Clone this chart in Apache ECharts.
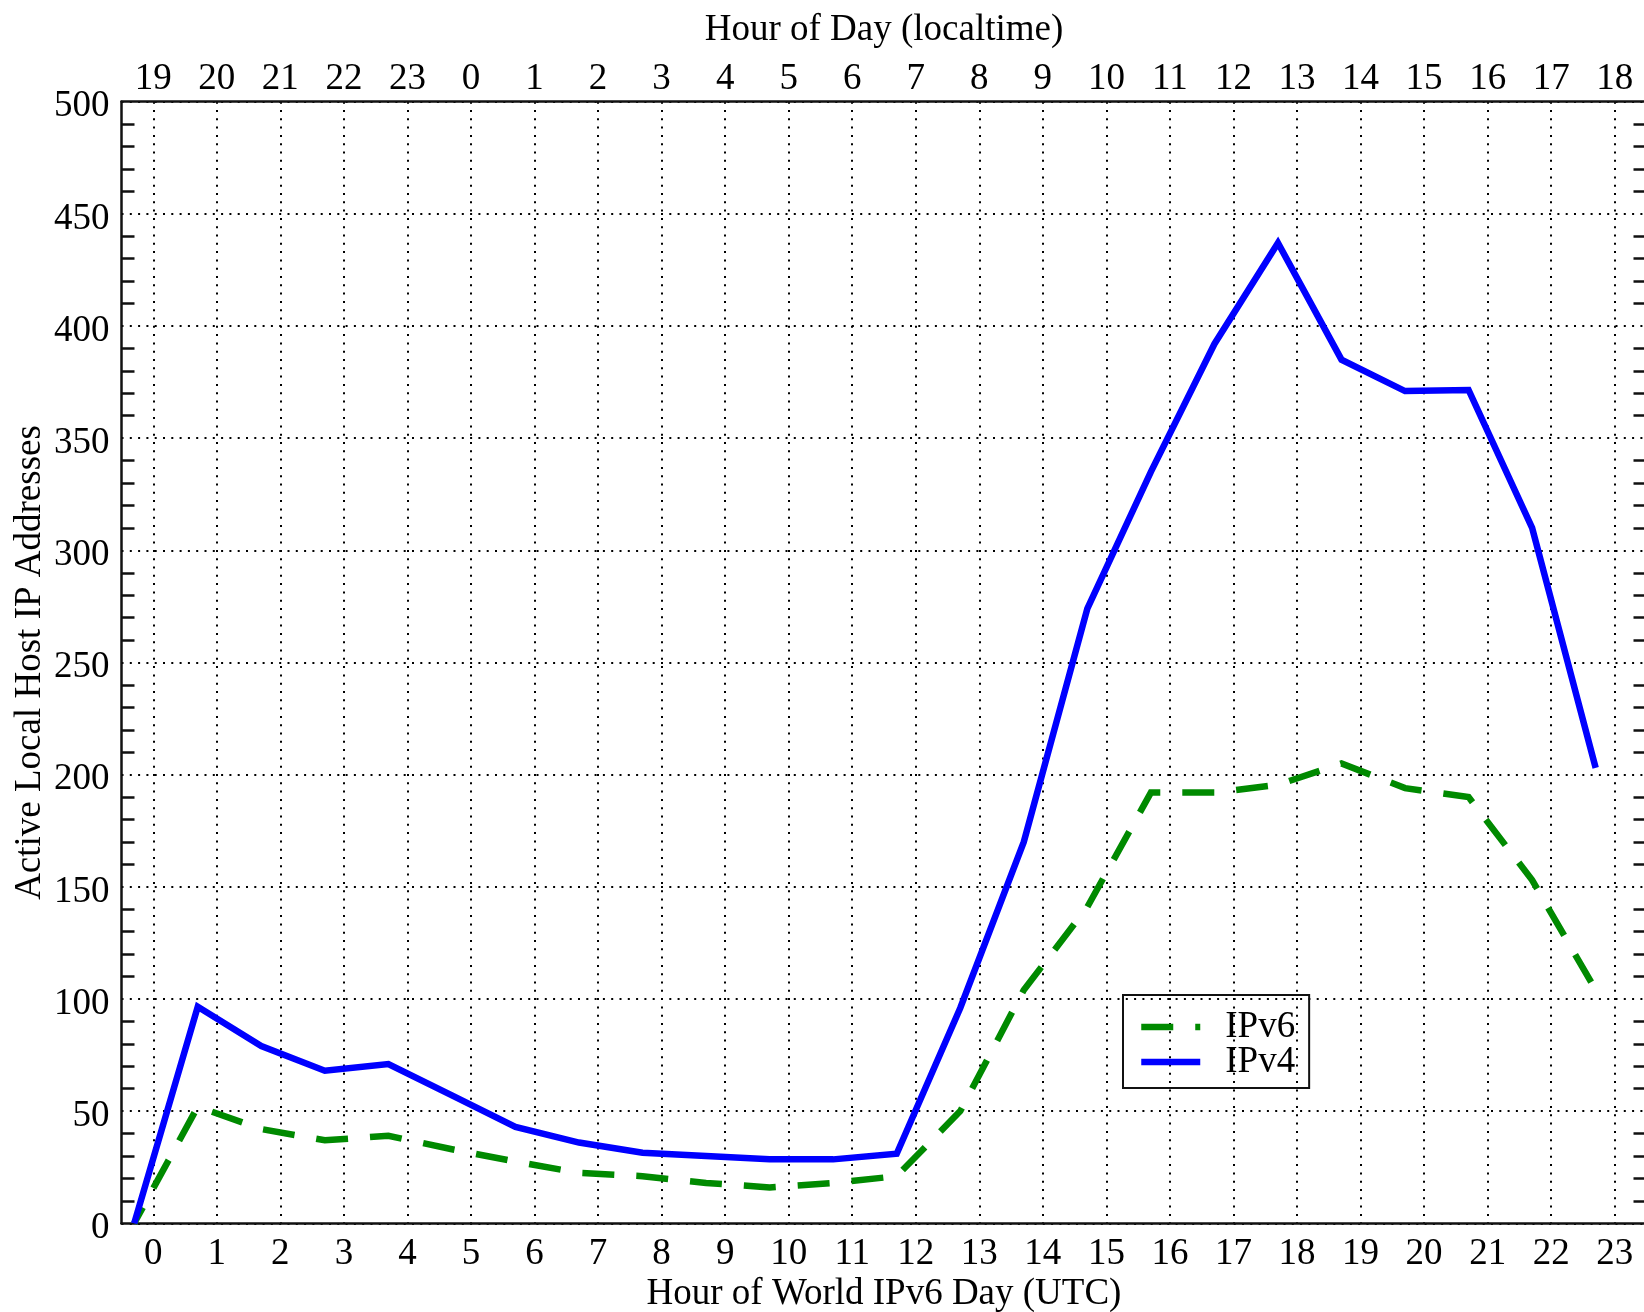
<!DOCTYPE html>
<html>
<head>
<meta charset="utf-8">
<title>World IPv6 Day – Active Local Host IP Addresses</title>
<script src="https://cdn.jsdelivr.net/npm/echarts@6/dist/echarts.min.js"></script>
<style>
  html, body { margin: 0; padding: 0; background: #fff; }
  #chart { width: 1644px; height: 1312px; }
</style>
</head>
<body>
<div id="chart"></div>
<script>
// Bottom axis: hour of World IPv6 Day in UTC
const utcHours = [0, 1, 2, 3, 4, 5, 6, 7, 8, 9, 10, 11, 12, 13, 14, 15, 16, 17, 18, 19, 20, 21, 22, 23];
// Top axis: the same ticks expressed in local time
const localHours = ['19', '20', '21', '22', '23', '0', '1', '2', '3', '4', '5', '6', '7', '8', '9', '10', '11', '12', '13', '14', '15', '16', '17', '18'];

// Time (UTC hours) of each hourly sample
const sampleTimes = [-0.3, 0.7, 1.7, 2.7, 3.7, 4.7, 5.7, 6.7, 7.7, 8.7, 9.7, 10.7, 11.7, 12.7, 13.7, 14.7, 15.7, 16.7, 17.7, 18.7, 19.7, 20.7, 21.7, 22.7];

// Active local host addresses seen per hour
const ipv6Hosts = [0, 52, 42, 37, 39, 33, 27.5, 22.5, 21, 18, 16, 18, 21, 50, 104, 141, 192, 192, 195.5, 205, 194, 190, 153, 104];
const ipv4Hosts = [0, 96.5, 79, 68, 71, 57, 43, 36, 31.5, 30, 28.5, 28.5, 31, 96, 170, 274, 335, 392, 437, 385, 371, 371.5, 310, 203];

const FONT = '"Liberation Serif", "Times New Roman", Times, serif';
const txt = { fontFamily: FONT, fontSize: 37, color: '#000' };
const gridDots = { color: '#000', width: 2, type: [2, 6.3] };
const spine = { color: '#111', width: 2.5 };
const minorTicks = { show: true, splitNumber: 5, length: 13, lineStyle: { color: '#111', width: 2.5 } };

const V6_COLOR = '#008a00';
const V4_COLOR = '#0000ff';
const LINE_W = 6.5;
const v6Line = { color: V6_COLOR, width: LINE_W, type: [32, 22], dashOffset: 14, cap: 'butt', join: 'miter' };
const v6Key = { color: V6_COLOR, width: LINE_W, type: [32, 22], dashOffset: 0, cap: 'butt' };
const v4Line = { color: V4_COLOR, width: LINE_W, type: 'solid', join: 'miter' };

const pairs = vals => sampleTimes.map((t, i) => [t, vals[i]]);

const chart = echarts.init(document.getElementById('chart'), null, { renderer: 'canvas' });

chart.setOption({
  animation: false,
  backgroundColor: '#fff',
  textStyle: { fontFamily: FONT },
  grid: {
    left: 121.5, top: 101.7, width: 1525, height: 1121.6,
    containLabel: false, outerBoundsMode: 'none'
  },
  xAxis: [
    {
      type: 'value', position: 'bottom', min: -0.5, max: 23.5,
      name: 'Hour of World IPv6 Day (UTC)', nameLocation: 'middle', nameGap: 52,
      nameTextStyle: txt, nameMoveOverlap: false,
      axisLine: { show: true, onZero: false, lineStyle: spine },
      axisTick: { show: false, customValues: utcHours },
      axisLabel: Object.assign({ customValues: utcHours, margin: 12, formatter: v => String(v) }, txt),
      splitLine: { show: true, lineStyle: gridDots }
    },
    {
      type: 'value', position: 'top', min: -0.5, max: 23.5,
      name: 'Hour of Day (localtime)', nameLocation: 'middle', nameGap: 53,
      nameTextStyle: txt, nameMoveOverlap: false,
      axisLine: { show: true, onZero: false, lineStyle: spine },
      axisTick: { show: false, customValues: utcHours },
      axisLabel: Object.assign({
        customValues: utcHours, margin: 4,
        formatter: v => localHours[utcHours.indexOf(Math.round(v))]
      }, txt),
      splitLine: { show: false }
    }
  ],
  yAxis: [
    {
      type: 'value', position: 'left', min: 0, max: 500, interval: 50,
      name: 'Active Local Host IP Addresses', nameLocation: 'middle', nameGap: 73,
      nameTextStyle: txt, nameMoveOverlap: false,
      axisLine: { show: true, onZero: false, lineStyle: spine },
      axisTick: { show: false, inside: true },
      minorTick: minorTicks,
      minorSplitLine: { show: false },
      axisLabel: {
        margin: 12,
        formatter: v => '{n|' + v + '}',
        rich: { n: Object.assign({ padding: [10, 0, 0, 0] }, txt) }
      },
      splitLine: { show: true, lineStyle: gridDots }
    },
    {
      type: 'value', position: 'right', min: 0, max: 500, interval: 50,
      axisLine: { show: true, onZero: false, lineStyle: spine },
      axisTick: { show: false, inside: true },
      minorTick: minorTicks,
      axisLabel: { show: false },
      splitLine: { show: false }
    }
  ],
  legend: {
    show: true, orient: 'vertical', left: 1123, top: 995,
    data: [
      { name: 'IPv6', lineStyle: v6Key },
      { name: 'IPv4', lineStyle: v4Line }
    ],
    padding: [13.5, 14, 7.5, 15],
    itemGap: -2, itemWidth: 59, itemHeight: 8,
    borderColor: '#111', borderWidth: 2, backgroundColor: 'transparent',
    selectedMode: false,
    itemStyle: { opacity: 0 },
    textStyle: Object.assign({ padding: [0, 0, 0, 20] }, txt)
  },
  series: [
    {
      name: 'IPv6', type: 'line', xAxisIndex: 0, yAxisIndex: 0,
      data: pairs(ipv6Hosts), symbol: 'none', smooth: false,
      itemStyle: { color: V6_COLOR },
      lineStyle: v6Line
    },
    {
      name: 'IPv4', type: 'line', xAxisIndex: 0, yAxisIndex: 0,
      data: pairs(ipv4Hosts), symbol: 'none', smooth: false,
      itemStyle: { color: V4_COLOR },
      lineStyle: v4Line
    }
  ]
});
</script>
</body>
</html>
